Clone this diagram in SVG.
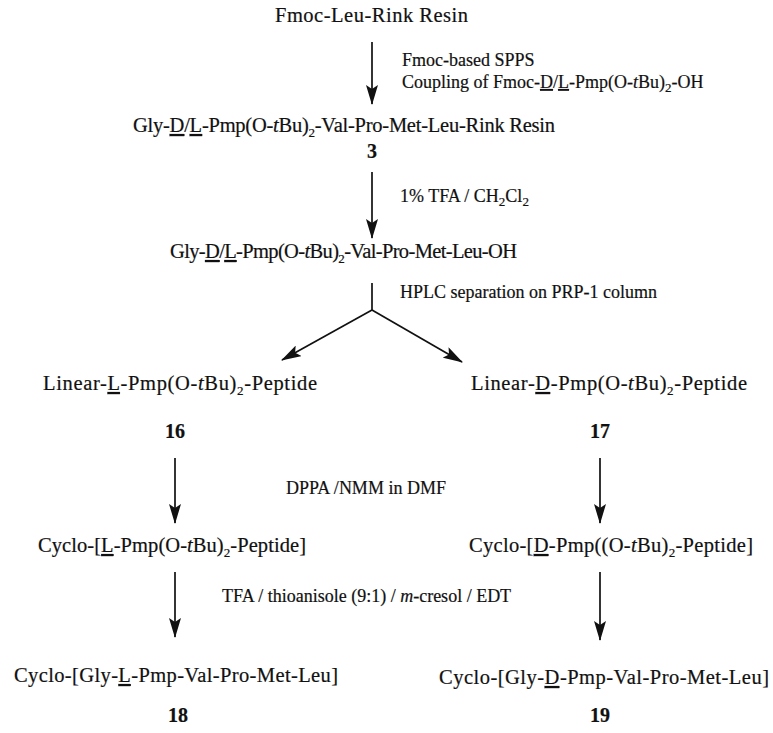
<svg xmlns="http://www.w3.org/2000/svg" width="773" height="733" viewBox="0 0 773 733">
<style>
text{font-family:"Liberation Serif","Times New Roman",serif;fill:#111;stroke:#111;stroke-width:0.2;}
.m{font-size:20.5px;}
.s{font-size:18px;}
.n{font-size:20px;font-weight:bold;}
.c{text-anchor:middle;}
.u{text-decoration:underline;}
.sub{font-size:13px;}
.cn line{stroke:#111;stroke-width:1.7;fill:none;}
</style>
<defs>
<marker id="ah" viewBox="0 0 20 12" refX="19" refY="6" markerWidth="20" markerHeight="12" markerUnits="userSpaceOnUse" orient="auto">
<path d="M0,0 L20,6 L0,12 L4,6 Z" fill="#111"/>
</marker>
</defs>
<rect width="773" height="733" fill="#fff"/>
<g id="connectors" class="cn">
<line x1="372" y1="42" x2="372" y2="104" marker-end="url(#ah)"/>
<line x1="372" y1="172" x2="372" y2="238" marker-end="url(#ah)"/>
<line x1="372" y1="283" x2="372" y2="310"/>
<line x1="372" y1="310" x2="282" y2="360" marker-end="url(#ah)"/>
<line x1="372" y1="310" x2="462" y2="362" marker-end="url(#ah)"/>
<line x1="175" y1="458" x2="175" y2="523" marker-end="url(#ah)"/>
<line x1="600" y1="458" x2="600" y2="523" marker-end="url(#ah)"/>
<line x1="175" y1="572" x2="175" y2="637" marker-end="url(#ah)"/>
<line x1="600" y1="572" x2="600" y2="640" marker-end="url(#ah)"/>
</g>
<g id="labels">
<text class="s" x="402" y="66">Fmoc-based SPPS</text>
<text class="s" x="402" y="88">Coupling of Fmoc-<tspan class="u">D</tspan>/<tspan class="u">L</tspan>-Pmp(O-<tspan font-style="italic">t</tspan>Bu)<tspan class="sub" dy="4">2</tspan><tspan dy="-4">-OH</tspan></text>
<text class="s" x="400" y="202">1% TFA / CH<tspan class="sub" dy="4">2</tspan><tspan dy="-4">Cl</tspan><tspan class="sub" dy="4">2</tspan></text>
<text class="s" x="400" y="298">HPLC separation on PRP-1 column</text>
<text class="s" x="286" y="494">DPPA /NMM in DMF</text>
<text class="s" x="222" y="602">TFA / thioanisole (9:1) / <tspan font-style="italic">m</tspan>-cresol / EDT</text>
</g>
<g id="n-start"><text class="m c" x="371.5" y="22" textLength="193">Fmoc-Leu-Rink Resin</text></g>
<g id="n-3">
<text class="m c" x="344" y="132" textLength="422">Gly-<tspan class="u">D</tspan>/<tspan class="u">L</tspan>-Pmp(O-<tspan font-style="italic">t</tspan>Bu)<tspan class="sub" dy="5">2</tspan><tspan dy="-5">-Val-Pro-Met-Leu-Rink Resin</tspan></text>
<text class="n c" x="372" y="158">3</text>
</g>
<g id="n-oh">
<text class="m c" x="343.5" y="258" textLength="347">Gly-<tspan class="u">D</tspan>/<tspan class="u">L</tspan>-Pmp(O-<tspan font-style="italic">t</tspan>Bu)<tspan class="sub" dy="5">2</tspan><tspan dy="-5">-Val-Pro-Met-Leu-OH</tspan></text>
</g>
<g id="n-16">
<text class="m c" x="180" y="390" textLength="274">Linear-<tspan class="u">L</tspan>-Pmp(O-<tspan font-style="italic">t</tspan>Bu)<tspan class="sub" dy="5">2</tspan><tspan dy="-5">-Peptide</tspan></text>
<text class="n c" x="175" y="438">16</text>
</g>
<g id="n-17">
<text class="m c" x="609" y="390" textLength="276">Linear-<tspan class="u">D</tspan>-Pmp(O-<tspan font-style="italic">t</tspan>Bu)<tspan class="sub" dy="5">2</tspan><tspan dy="-5">-Peptide</tspan></text>
<text class="n c" x="600" y="438">17</text>
</g>
<g id="n-cycL">
<text class="m c" x="172" y="552" textLength="268">Cyclo-[<tspan class="u">L</tspan>-Pmp(O-<tspan font-style="italic">t</tspan>Bu)<tspan class="sub" dy="5">2</tspan><tspan dy="-5">-Peptide]</tspan></text>
</g>
<g id="n-cycD">
<text class="m c" x="611" y="552" textLength="284">Cyclo-[<tspan class="u">D</tspan>-Pmp((O-<tspan font-style="italic">t</tspan>Bu)<tspan class="sub" dy="5">2</tspan><tspan dy="-5">-Peptide]</tspan></text>
</g>
<g id="n-18">
<text class="m c" x="176" y="682" textLength="324">Cyclo-[Gly-<tspan class="u">L</tspan>-Pmp-Val-Pro-Met-Leu]</text>
<text class="n c" x="178" y="722">18</text>
</g>
<g id="n-19">
<text class="m c" x="604" y="684" textLength="330">Cyclo-[Gly-<tspan class="u">D</tspan>-Pmp-Val-Pro-Met-Leu]</text>
<text class="n c" x="600" y="722">19</text>
</g>
</svg>
